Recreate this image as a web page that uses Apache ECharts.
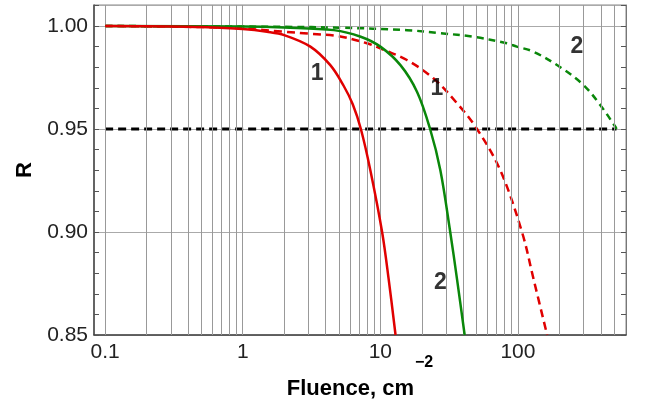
<!DOCTYPE html>
<html>
<head>
<meta charset="utf-8">
<script src="https://cdn.jsdelivr.net/npm/echarts@6/dist/echarts.min.js"></script>
<style>html,body{margin:0;padding:0;background:#fff;}#c{width:646px;height:402px;}</style>
</head>
<body>
<div id="c"></div>
<script>
// Data
const redSolidF = [0.1, 0.3, 0.5, 1, 1.5, 2, 3.1, 4.33, 5.41, 6.3, 7.22, 8.46, 10.3, 11.5, 12.9];
const redSolidR = [1.0, 0.9998, 0.9995, 0.9985, 0.9972, 0.9956, 0.990, 0.981, 0.971, 0.962, 0.950, 0.930, 0.900, 0.877, 0.850];

const greenSolidF = [0.1, 1, 2, 4.6, 7.2, 10, 14, 18.5, 23.0, 27.3, 32.2, 36.1, 41];
const greenSolidR = [1.0, 0.9998, 0.9993, 0.998, 0.9948, 0.990, 0.981, 0.968, 0.950, 0.930, 0.900, 0.877, 0.850];

const redDashF = [0.1, 0.5, 1, 2, 3, 5, 8, 10.6, 15.6, 24.4, 36.1, 50.4, 74.4, 107, 130, 163];
const redDashR = [1.0, 0.9995, 0.9988, 0.9972, 0.9963, 0.995, 0.9916, 0.9884, 0.9835, 0.9745, 0.9625, 0.950, 0.930, 0.900, 0.877, 0.850];

const greenDashF = [0.1, 2, 5, 15.6, 27.3, 47.6, 83, 98, 130, 203, 299, 396, 509, 520];
const greenDashR = [1.0, 0.9996, 0.9992, 0.998, 0.9965, 0.9948, 0.9916, 0.990, 0.9875, 0.980, 0.9714, 0.9617, 0.9512, 0.950];

const thresholdF = [0.1, 520];
const thresholdR = [0.95, 0.95];

const labelTexts = ['1', '1', '2', '2'];
const labelF = [3.47, 25.8, 268, 27.3];
const labelR = [0.977, 0.9698, 0.990, 0.8752];

const gridLinesF = [0.1,0.2,0.3,0.4,0.5,0.6,0.7,0.8,0.9,1,2,3,4,5,6,7,8,9,10,20,30,40,50,60,70,80,90,100,200,300,400,500];

const yTicks = [0.85, 0.90, 0.95, 1.00];

const zip = (a, b) => a.map((v, i) => [v, b[i]]);

const chart = echarts.init(document.getElementById('c'));
const FONT = '"Liberation Sans", Arial, sans-serif';
const axisY = (pos, showLabel) => ({
  type: 'value', position: pos, min: 0.85, max: 1.0102, interval: 0.05,
  axisLine: { show: true, lineStyle: { color: pos === 'left' ? '#444' : '#777', width: pos === 'left' ? 1.5 : 1 } },
  axisTick: { show: true, inside: true, length: 5, lineStyle: { color: '#555' } },
  minorTick: { show: true, splitNumber: 5, length: 5, lineStyle: { color: '#555' } },
  splitLine: { show: showLabel, lineStyle: { color: '#aaa', width: 1 } },
  axisLabel: { show: showLabel, showMaxLabel: false, margin: 6, fontSize: 21, color: '#222', fontFamily: FONT,
    formatter: v => yTicks.some(t => Math.abs(t - v) < 1e-6) ? v.toFixed(2) : '' },
  name: showLabel ? 'R' : '', nameLocation: 'middle', nameGap: 58, nameMoveOverlap: false,
  nameTextStyle: { fontSize: 22, fontWeight: 'bold', color: '#000', fontFamily: FONT }
});

const lineSeries = (f, r, color, type, z) => ({
  type: 'line', data: zip(f, r), showSymbol: false, smooth: 0.35, z: z,
  lineStyle: { color: color, width: 2.5, type: type }
});

chart.setOption({
  animation: false,
  backgroundColor: '#fff',
  grid: { left: 94, right: 20, top: 5, bottom: 67, outerBoundsMode: 'none', containLabel: false,
    show: true, borderColor: '#888', borderWidth: 1, backgroundColor: 'transparent' },
  xAxis: {
    type: 'log', logBase: 10, min: 0.083, max: 610,
    axisLine: { show: true, lineStyle: { color: '#444', width: 1.5 } },
    axisTick: { show: true, inside: true, length: 5, lineStyle: { color: '#555' } },
    splitLine: { show: false },
    axisLabel: { showMinLabel: false, showMaxLabel: false, margin: 7, fontSize: 21, color: '#222', fontFamily: FONT,
      formatter: v => String(+v.toPrecision(3)) },
    name: '{a|Fluence, cm}{b|−2}', nameLocation: 'middle', nameGap: 20, nameMoveOverlap: false,
    nameTextStyle: {
      rich: {
        a: { fontSize: 22, fontWeight: 'bold', color: '#000', fontFamily: FONT },
        b: { fontSize: 16, fontWeight: 'bold', color: '#000', fontFamily: FONT, padding: [0, 0, 52, 1] }
      }
    }
  },
  yAxis: [axisY('left', true), axisY('right', false)],
  series: [
    { type: 'line', data: [], silent: true, z: 1,
      markLine: { silent: true, symbol: 'none', label: { show: false }, animation: false,
        lineStyle: { color: '#999', width: 1, type: 'solid' },
        data: gridLinesF.map(v => ({ xAxis: v })) } },
    { type: 'line', data: zip(thresholdF, thresholdR), showSymbol: false, z: 3,
      lineStyle: { color: '#000', width: 3, type: [8, 5] } },
    lineSeries(greenDashF, greenDashR, '#0a870a', [7, 5], 4),
    lineSeries(redDashF, redDashR, '#e00000', [8, 5], 4),
    lineSeries(greenSolidF, greenSolidR, '#0a870a', 'solid', 5),
    lineSeries(redSolidF, redSolidR, '#e00000', 'solid', 5),
    { type: 'scatter', symbolSize: 0, z: 6, silent: true,
      data: labelTexts.map((t, i) => ({ name: t, value: [labelF[i], labelR[i]] })),
      label: { show: true, position: 'inside', formatter: p => p.name, fontSize: 23, fontWeight: 'bold', color: '#000', fontFamily: FONT } }
  ]
});
</script>
</body>
</html>
